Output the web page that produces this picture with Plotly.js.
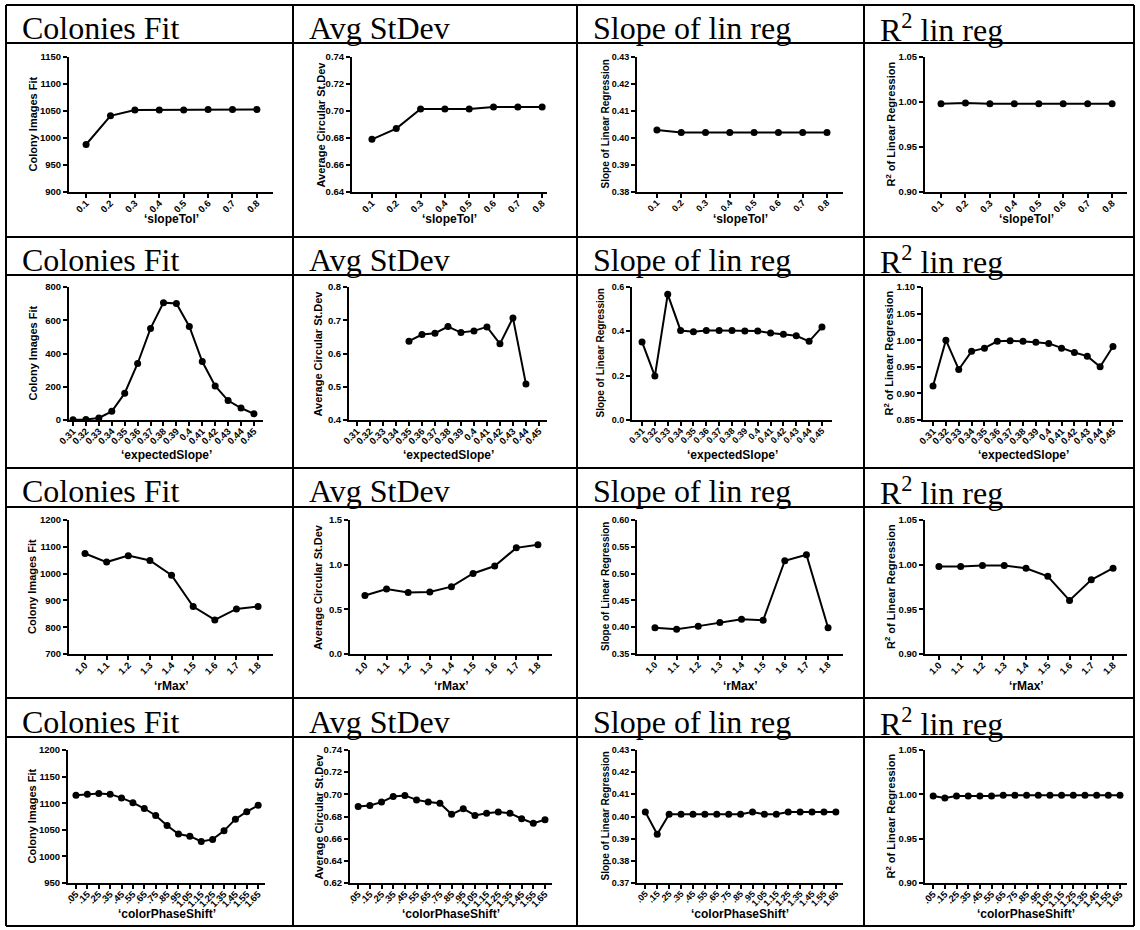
<!DOCTYPE html>
<html>
<head>
<meta charset="utf-8">
<script src="https://cdn.plot.ly/plotly-3.0.1.min.js"></script>
<style>html,body{margin:0;padding:0;background:#fff;}#chart{width:1140px;height:930px;}</style>
</head>
<body>
<div id="chart"></div>
<script>
// ---------- categories ----------
const slopeTol = ["0.1","0.2","0.3","0.4","0.5","0.6","0.7","0.8"];
const expectedSlope = ["0.31","0.32","0.33","0.34","0.35","0.36","0.37","0.38","0.39","0.4","0.41","0.42","0.43","0.44","0.45"];
const rMax = ["1.0","1.1","1.2","1.3","1.4","1.5","1.6","1.7","1.8"];
const colorPhaseShift = [".05",".15",".25",".35",".45",".55",".65",".75",".85",".95","1.05","1.15","1.25","1.35","1.45","1.55","1.65"];

// ---------- series: slopeTol ----------
const fitSlopeTol = [988, 1041, 1052, 1052, 1052, 1053, 1053, 1053];
const sdSlopeTol = [0.679, 0.687, 0.7015, 0.7015, 0.7015, 0.703, 0.703, 0.703];
const slopeSlopeTol = [0.403, 0.402, 0.402, 0.402, 0.402, 0.402, 0.402, 0.402];
const r2SlopeTol = [0.998, 0.999, 0.998, 0.998, 0.998, 0.998, 0.998, 0.998];

// ---------- series: expectedSlope ----------
const fitExpSlope = [2, 3, 12, 52, 161, 340, 551, 706, 701, 563, 352, 205, 117, 72, 37];
const sdExpSlope = [null, null, null, null, 0.637, 0.657, 0.661, 0.681, 0.663, 0.668, 0.680, 0.629, 0.707, 0.508, null];
const slopeExpSlope = [0.352, 0.198, 0.567, 0.404, 0.398, 0.404, 0.404, 0.404, 0.401, 0.401, 0.393, 0.387, 0.380, 0.355, 0.419];
const r2ExpSlope = [0.914, 1.000, 0.945, 0.979, 0.985, 0.998, 0.999, 0.998, 0.996, 0.994, 0.985, 0.977, 0.970, 0.950, 0.988];

// ---------- series: rMax ----------
const fitRMax = [1075, 1043, 1067, 1049, 994, 877, 827, 868, 877];
const sdRMax = [0.655, 0.728, 0.688, 0.695, 0.754, 0.901, 0.985, 1.188, 1.224];
const slopeRMax = [0.399, 0.396, 0.402, 0.409, 0.415, 0.413, 0.524, 0.535, 0.399];
const r2RMax = [0.998, 0.998, 0.999, 0.999, 0.996, 0.987, 0.960, 0.983, 0.996];

// ---------- series: colorPhaseShift ----------
const fitPhase = [1115, 1117, 1118, 1117, 1110, 1101, 1090, 1077, 1058, 1042, 1038, 1028, 1032, 1048, 1070, 1084, 1096];
const sdPhase = [0.689, 0.690, 0.693, 0.698, 0.699, 0.695, 0.693, 0.692, 0.682, 0.687, 0.681, 0.683, 0.684, 0.683, 0.678, 0.674, 0.677];
const slopePhase = [0.402, 0.392, 0.401, 0.401, 0.401, 0.401, 0.401, 0.401, 0.401, 0.402, 0.401, 0.401, 0.402, 0.402, 0.402, 0.402, 0.402];
const r2Phase = [0.998, 0.996, 0.998, 0.998, 0.998, 0.998, 0.999, 0.999, 0.999, 0.999, 0.999, 0.999, 0.999, 0.999, 0.999, 0.999, 0.999];

// ---------- texts ----------
const headers = ["Colonies Fit", "Avg StDev", "Slope of lin reg", "R<sup>2</sup> lin reg"];
const yTitles = ["Colony Images Fit", "Average Circular St.Dev", "Slope of Linear Regression", "R<sup>2</sup> of Linear Regression"];
const xTitles = ["\u2018slopeTol\u2019", "\u2018expectedSlope\u2019", "\u2018rMax\u2019", "\u2018colorPhaseShift\u2019"];

const rowCats = [slopeTol, expectedSlope, rMax, colorPhaseShift];
const rowSeries = [
  [fitSlopeTol, sdSlopeTol, slopeSlopeTol, r2SlopeTol],
  [fitExpSlope, sdExpSlope, slopeExpSlope, r2ExpSlope],
  [fitRMax, sdRMax, slopeRMax, r2RMax],
  [fitPhase, sdPhase, slopePhase, r2Phase]
];

// y axis ranges / ticks per panel [row][col]
const yAxes = [
  [{r:[900,1150],d:50,f:'d'},{r:[0.64,0.74],d:0.02,f:'.2f'},{r:[0.38,0.43],d:0.01,f:'.2f'},{r:[0.90,1.05],d:0.05,f:'.2f'}],
  [{r:[0,800],d:200,f:'d'},{r:[0.4,0.8],d:0.1,f:'.1f'},{r:[0,0.6],d:0.2,f:'.1f'},{r:[0.85,1.10],d:0.05,f:'.2f'}],
  [{r:[700,1200],d:100,f:'d'},{r:[0,1.5],d:0.5,f:'.1f'},{r:[0.35,0.60],d:0.05,f:'.2f'},{r:[0.90,1.05],d:0.05,f:'.2f'}],
  [{r:[950,1200],d:50,f:'d'},{r:[0.62,0.74],d:0.02,f:'.2f'},{r:[0.37,0.43],d:0.01,f:'.2f'},{r:[0.90,1.05],d:0.05,f:'.2f'}]
];

// ---------- layout geometry (pixels) ----------
const W = 1140, H = 930;
const px = x => x / W;
const py = y => 1 - y / H;
const colLines = [6, 293, 577, 864, 1134];
const rowLines = [5, 43, 237, 275, 468, 507, 698, 737, 926];
const plotY = [[57,192],[287,420],[520,654],[750,883]];
const xTitleY = [219, 455, 686, 914];
const yTitleOff = [37, 32, 32, 35];
const yTitleSize = [11, 11, 10, 11];
const tickSize = [9.5, 9.5, 9, 9.5];
const plotX = [
  [[69,273,-0.70,7.66],[352,547,-0.82,7.2],[637,843,-0.82,7.66],[925,1127,-0.655,7.61]],
  [[69,263,-0.31,14.7],[349,547,-0.615,14.62],[632,832,-0.78,14.78],[923,1123,-0.78,14.78]],
  [[69,273,-0.74,8.69],[350,552,-0.69,8.65],[637,843,-0.83,8.69],[925,1127,-0.64,8.64]],
  [[68,265,-0.7,16.6],[350,552,-0.7,16.6],[637,843,-0.7,16.6],[925,1127,-0.7,16.6]]
];

const fam = 'Liberation Sans, Arial, sans-serif';

const data = [];
const layout = {
  width: W, height: H,
  margin: {l:0, r:0, t:0, b:0},
  paper_bgcolor: '#fff', plot_bgcolor: 'rgba(0,0,0,0)',
  showlegend: false,
  shapes: [], annotations: []
};

for (let r = 0; r < 4; r++) {
  for (let c = 0; c < 4; c++) {
    const n = r * 4 + c + 1;
    const xa = n === 1 ? 'xaxis' : 'xaxis' + n;
    const ya = n === 1 ? 'yaxis' : 'yaxis' + n;
    const g = plotX[r][c];
    const yy = plotY[r];
    const ycfg = yAxes[r][c];
    const cats = rowCats[r];
    const tf = {family: fam, size: tickSize[c], color: '#000', weight: 'bold'};
    data.push({
      x: cats, y: rowSeries[r][c],
      xaxis: 'x' + n, yaxis: 'y' + n,
      type: 'scatter', mode: 'lines+markers',
      line: {color:'#000', width:2},
      marker: {color:'#000', size:7},
      connectgaps: false, hoverinfo: 'x+y'
    });
    layout[xa] = {
      domain: [px(g[0]), px(g[1])],
      anchor: 'y' + n,
      type: 'category',
      range: [g[2], g[3]],
      tickmode: 'array', tickvals: cats, ticktext: cats,
      showline: true, linecolor: '#000', linewidth: 2,
      ticks: 'outside', ticklen: 4, tickwidth: 2, tickcolor: '#000',
      tickangle: -45, tickfont: tf, ticklabelstandoff: -4,
      showgrid: false, zeroline: false, fixedrange: true
    };
    layout[ya] = {
      domain: [py(yy[1]), py(yy[0])],
      anchor: 'x' + n,
      range: ycfg.r, dtick: ycfg.d, tick0: ycfg.r[0], tickformat: ycfg.f,
      showline: true, linecolor: '#000', linewidth: 2,
      ticks: 'outside', ticklen: 4, tickwidth: 2, tickcolor: '#000',
      tickfont: tf,
      showgrid: false, zeroline: false, fixedrange: true
    };
    // header text
    layout.annotations.push({
      xref: 'paper', yref: 'paper',
      x: px(colLines[c] + 14), y: py((rowLines[2*r] + rowLines[2*r+1]) / 2 + 4),
      xanchor: 'left', yanchor: 'middle',
      text: headers[c], showarrow: false,
      font: {family: 'Liberation Serif, Times New Roman, serif', size: 32, color: '#000'}
    });
    // x title
    layout.annotations.push({
      xref: 'paper', yref: 'paper',
      x: px((g[0] + g[1]) / 2), y: py(xTitleY[r]),
      xanchor: 'center', yanchor: 'middle',
      text: '<b>' + xTitles[r] + '</b>', showarrow: false,
      font: {family: fam, size: 12, color: '#000'}
    });
    // y title
    layout.annotations.push({
      xref: 'paper', yref: 'paper',
      x: px(g[0] - yTitleOff[c]), y: py((yy[0] + yy[1]) / 2),
      xanchor: 'center', yanchor: 'middle', textangle: -90,
      text: '<b>' + yTitles[c] + '</b>', showarrow: false,
      font: {family: fam, size: yTitleSize[c], color: '#000'}
    });
  }
}

// table lines
for (const x of colLines) {
  layout.shapes.push({type:'line', xref:'paper', yref:'paper', x0:px(x), x1:px(x), y0:py(rowLines[0]), y1:py(rowLines[rowLines.length-1]), line:{color:'#000', width:2}});
}
for (const y of rowLines) {
  layout.shapes.push({type:'line', xref:'paper', yref:'paper', x0:px(colLines[0]), x1:px(colLines[colLines.length-1]), y0:py(y), y1:py(y), line:{color:'#000', width:2}});
}

Plotly.newPlot('chart', data, layout, {displayModeBar:false, staticPlot:true});
</script>
</body>
</html>
